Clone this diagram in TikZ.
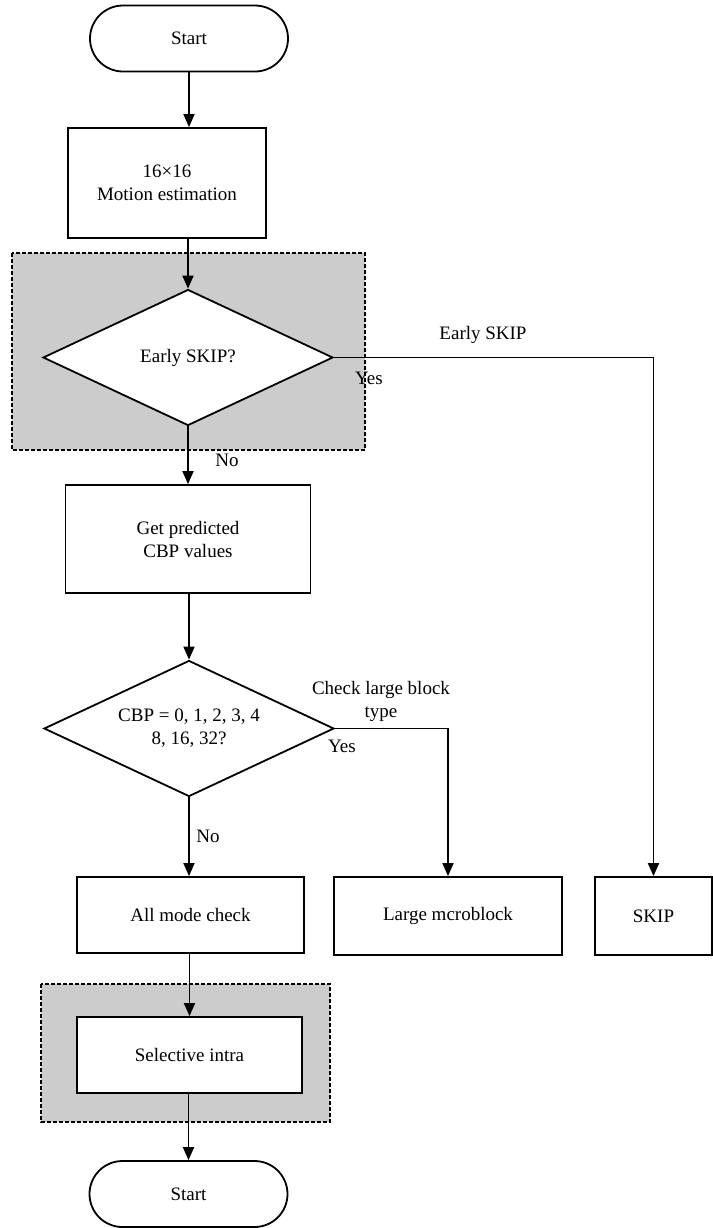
\documentclass[tikz,border=0pt]{standalone}
\usepackage{fontspec}
\setmainfont{Liberation Serif}
\usetikzlibrary{shapes.geometric,arrows.meta}
\definecolor{zone_gray}{HTML}{CCCCCC}

\begin{document}
\begin{tikzpicture}[x=0.5pt,y=-0.5pt,
        font=\fontsize{9.5}{11.5}\selectfont,
        every node/.style={align=center},
        term/.style={draw, line width=0.9pt, rounded corners=16.5pt, minimum width=99pt, minimum height=33pt, inner sep=0pt, fill=white},
        box/.style={draw, line width=0.9pt, inner sep=0pt, fill=white},
        test/.style={draw, line width=0.9pt, diamond, aspect=2.1, inner sep=0pt, minimum width=145pt, minimum height=68pt, fill=white},
        zone/.style={draw, fill=zone_gray, line width=0.6pt, dash pattern=on 2pt off 1pt},
        flow/.style={line width=0.9pt, -{Triangle[length=6.5pt,width=5.5pt]}}]
        \useasboundingbox (0,0) rectangle (713,1228);
        % Zones grises
        \draw[zone] (12,253) rectangle (365,450);
        \draw[zone] (41,984) rectangle (330,1122);
        % Blocs
        \node[term] (start) at (189,38.5) {Start};
        \node[box, minimum width=99pt, minimum height=55pt] (motion) at (167,183) {16×16\\Motion estimation};
        \node[test] (skiptest) at (188,357.5) {Early SKIP?};
        \node[box, minimum width=122.5pt, minimum height=54pt] (cbp) at (188,539) {Get predicted\\CBP values};
        \node[test] (cbptest) at (189,728.5) {CBP = 0, 1, 2, 3, 4\\8, 16, 32?};
        \node[box, minimum width=113.5pt, minimum height=38pt] (allmode) at (190.5,915) {All mode check};
        \node[box, minimum width=114pt, minimum height=39pt] (large) at (448,916) {Large mcroblock};
        \node[box, minimum width=58.5pt, minimum height=39pt] (skip) at (653.5,916) {SKIP};
        \node[box, minimum width=112.5pt, minimum height=38pt] (intra) at (189.5,1055) {Selective intra};
        \node[term] (stop) at (188.5,1194) {Start};
        % Liaisons
        \draw[flow] (start.south) -- (motion.north -| start.south);
        \draw[flow] (motion.south -| skiptest.north) -- (skiptest.north);
        \draw[flow] (skiptest.south) -- (cbp.north -| skiptest.south);
        \draw[flow] (cbp.south -| cbptest.north) -- (cbptest.north);
        \draw[flow] (cbptest.south) -- (allmode.north -| cbptest.south);
        \draw[flow] (allmode.south -| intra.north) -- (intra.north);
        \draw[flow] (intra.south -| stop.north) -- (stop.north);
        \draw[flow] (skiptest.east) -| (skip.north);
        \draw[flow] (cbptest.east) -| (large.north);
        % Etiquettes
        \node (earlylbl) at (483,335) {Early SKIP};
        \node (yes1) at (369,378) {Yes};
        \node (no1) at (227,460) {No};
        \node (checklbl) at (381,701) {Check large block\\type};
        \node (yes2) at (342,746) {Yes};
        \node (no2) at (208,836) {No};
\end{tikzpicture}
\end{document}
